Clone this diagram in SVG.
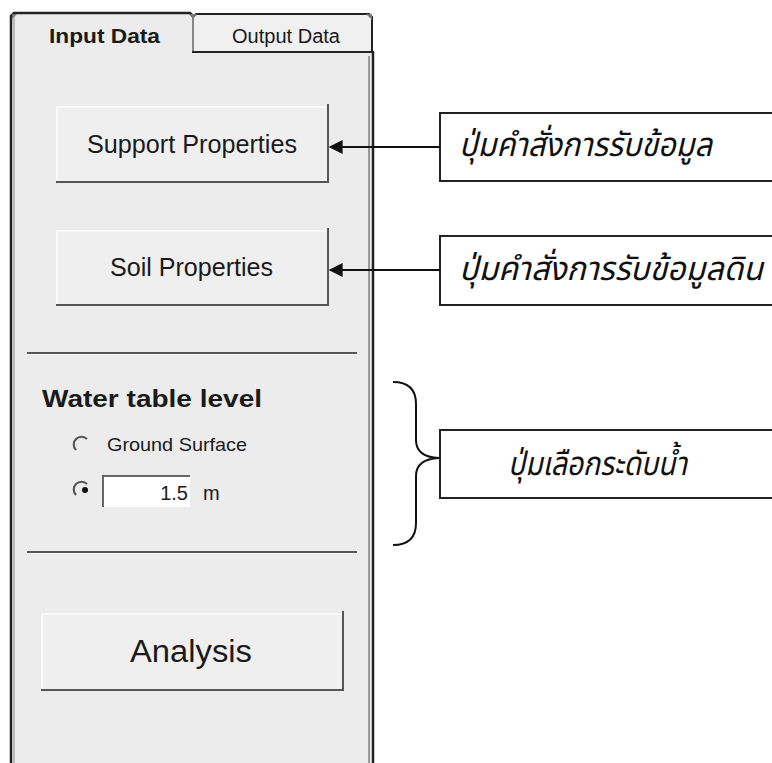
<svg xmlns="http://www.w3.org/2000/svg" width="772" height="763" viewBox="0 0 772 763">
<defs>
<style>
.ui{font-family:"Liberation Sans",Arial,sans-serif;fill:#1a1a1a}
.thai{font-family:"Noto Sans Thai","Noto Sans","DejaVu Sans",sans-serif;font-style:italic;fill:#111;font-size:33px}
.btn{fill:#efefef}
.shadow{stroke:#555;stroke-width:2;fill:none}
.hl{stroke:#fafafa;stroke-width:2;fill:none}
.callout{fill:#fff;stroke:#222;stroke-width:2}
.conn{stroke:#111;stroke-width:2;fill:none}
.radio{stroke:#555;stroke-width:2.2;fill:none}
</style>
<marker id="ah" viewBox="0 0 10 10" refX="9" refY="5" markerWidth="8" markerHeight="7" markerUnits="strokeWidth" orient="auto">
<path d="M0,0 L10,5 L0,10 Z" fill="#111"/>
</marker>
</defs>
<rect width="772" height="763" fill="#fff"/>

<g id="panel">
<path d="M12,763 V16 L14,14 H190 L192,16 V52 H372 V763 Z" fill="#ececec"/>
<path d="M194,16 L196,15 H369 L372,18 V52 H194 Z" fill="#f0f0f0"/>
<path d="M11,763 V16 L14,13 H190 L193,16" stroke="#222" stroke-width="2.5" fill="none"/>
<path d="M193,16 V52" stroke="#888" stroke-width="2" fill="none"/>
<path d="M194,16 L196,14 H369 L372,17 V52" stroke="#222" stroke-width="2" fill="none"/>
<path d="M192,52 H374" stroke="#222" stroke-width="2" fill="none"/>
<path d="M373,52 V763" stroke="#222" stroke-width="2.5" fill="none"/>
<path d="M369,56 V763" stroke="#9a9a9a" stroke-width="2" fill="none"/>
<path d="M14,16 V763" stroke="#bdbdbd" stroke-width="2" fill="none"/>
<path d="M12,14 L17,14 L12,19 Z" fill="#777"/>
<path d="M189,14 L197,14 L193,19 Z" fill="#777"/>
<path d="M366,14 L372,14 L372,20 Z" fill="#777"/>
<text class="ui" x="49" y="43" font-size="21" font-weight="bold" textLength="111" lengthAdjust="spacingAndGlyphs">Input Data</text>
<text class="ui" x="232" y="43" font-size="20" textLength="108" lengthAdjust="spacingAndGlyphs">Output Data</text>
</g>

<g id="btn-support">
<rect class="btn" x="57" y="106" width="271" height="76"/>
<path class="hl" d="M57,181 V107 H327"/>
<path class="shadow" d="M56,182 H328 V104"/>
<text class="ui" x="87" y="153" font-size="25" textLength="210" lengthAdjust="spacingAndGlyphs">Support Properties</text>
</g>

<g id="btn-soil">
<rect class="btn" x="57" y="230" width="271" height="75"/>
<path class="hl" d="M57,304 V231 H327"/>
<path class="shadow" d="M56,305 H328 V228"/>
<text class="ui" x="110" y="276" font-size="25" textLength="163" lengthAdjust="spacingAndGlyphs">Soil Properties</text>
</g>

<g id="water-table">
<line x1="27" y1="353" x2="357" y2="353" stroke="#555" stroke-width="2"/>
<line x1="27" y1="354.5" x2="357" y2="354.5" stroke="#fafafa" stroke-width="1"/>
<text class="ui" x="42" y="407" font-size="24" font-weight="bold" textLength="220" lengthAdjust="spacingAndGlyphs">Water table level</text>
<path class="radio" d="M87,439 A7,7 0 0 0 76,450"/>
<text class="ui" x="107" y="451" font-size="19" textLength="140" lengthAdjust="spacingAndGlyphs">Ground Surface</text>
<path class="radio" d="M87,484 A7,7 0 0 0 76,495"/>
<circle cx="85" cy="490" r="3" fill="#111"/>
<rect x="102" y="475" width="88" height="32" fill="#fff"/>
<path d="M103,507 V476 H190" stroke="#666" stroke-width="2" fill="none"/>
<text class="ui" x="188" y="500" font-size="20" text-anchor="end">1.5</text>
<text class="ui" x="203" y="500" font-size="20">m</text>
<line x1="27" y1="552" x2="357" y2="552" stroke="#555" stroke-width="2"/>
<line x1="27" y1="553.5" x2="357" y2="553.5" stroke="#fafafa" stroke-width="1"/>
</g>

<g id="btn-analysis">
<rect class="btn" x="42" y="613" width="301" height="77"/>
<path class="hl" d="M42,689 V614 H342"/>
<path class="shadow" d="M41,690 H343 V611"/>
<text class="ui" x="130" y="662" font-size="31" textLength="122" lengthAdjust="spacingAndGlyphs">Analysis</text>
</g>

<g id="label-support">
<rect class="callout" x="440" y="113" width="340" height="68"/>
<text class="thai" x="459" y="156" textLength="253" lengthAdjust="spacingAndGlyphs">ปุ่มคำสั่งการรับข้อมูล</text>
</g>

<g id="label-soil">
<rect class="callout" x="440" y="236" width="340" height="69"/>
<text class="thai" x="459" y="280" textLength="304" lengthAdjust="spacingAndGlyphs">ปุ่มคำสั่งการรับข้อมูลดิน</text>
</g>

<g id="label-water">
<rect class="callout" x="440" y="430" width="340" height="68"/>
<text class="thai" x="508" y="475" textLength="179" lengthAdjust="spacingAndGlyphs">ปุ่มเลือกระดับน้ำ</text>
</g>

<g id="connectors">
<line class="conn" x1="440" y1="147" x2="330" y2="147" marker-end="url(#ah)"/>
<line class="conn" x1="440" y1="270" x2="330" y2="270" marker-end="url(#ah)"/>
<path class="conn" d="M393,382 Q416,382 416,404 V440 Q416,457 439,458 Q416,459 416,476 V523 Q416,545 393,545"/>
</g>
</svg>
